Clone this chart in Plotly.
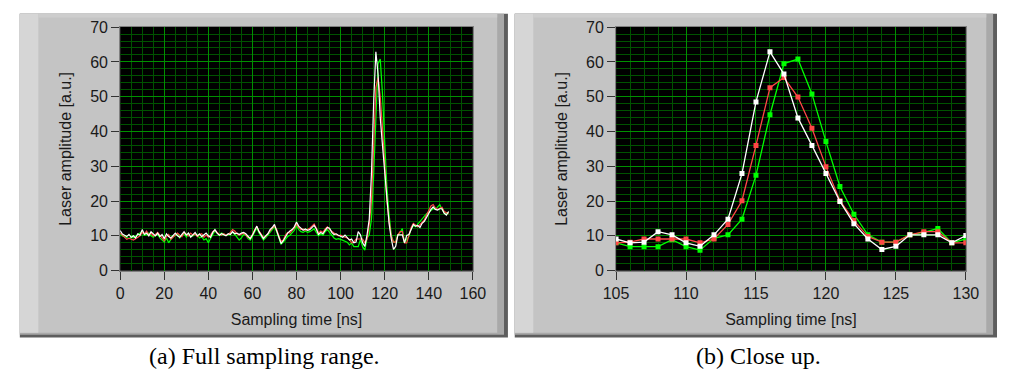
import plotly.graph_objects as go

# Sampling times [ns] and the three recorded laser pulses [a.u.]
t_ns = list(range(0, 150))

white_trace = [
    11.5, 10.5, 10.2, 9.8, 10.4, 9.6, 10.0, 9.4, 10.6, 10.2,
    11.8, 10.4, 10.8, 10.0, 11.2, 10.6, 10.0, 10.8, 9.8, 10.4,
    9.2, 10.6, 9.8, 9.4, 10.2, 10.8, 10.0, 9.6, 10.4, 11.2,
    10.2, 10.8, 9.6, 10.4, 11.0, 10.0, 10.6, 9.8, 10.4, 10.8,
    10.0, 9.6, 11.0, 11.8, 10.8, 10.2, 10.6, 10.4, 10.0, 10.6,
    10.4, 11.2, 10.6, 10.8, 10.4, 10.8, 11.0, 10.6, 9.8, 9.2,
    10.2, 11.4, 12.8, 11.2, 10.2, 9.2, 10.0, 10.6, 11.8, 12.4,
    13.3, 11.6, 9.6, 7.8, 8.6, 9.8, 10.8, 11.4, 11.8, 12.6,
    14.0, 12.8, 12.2, 11.6, 12.0, 11.6, 11.8, 12.4, 13.0, 12.0,
    10.4, 11.0, 10.6, 11.6, 12.4, 12.2, 11.0, 10.4, 10.6, 10.2,
    10.0, 9.6, 10.2, 9.6, 8.8, 9.1, 8.0, 8.2, 11.2, 10.3,
    8.0, 7.0, 10.3, 14.8, 27.9, 48.5, 62.9, 56.5, 43.9, 36.0,
    27.9, 19.9, 13.5, 9.1, 6.1, 7.0, 10.3, 10.3, 10.3, 8.0,
    10.1, 10.4, 12.0, 13.3, 12.8, 13.0, 12.4, 13.6, 14.2, 15.4,
    16.5, 17.6, 18.3, 17.6, 17.4, 17.8, 17.8, 16.5, 16.0, 17.0,
]

red_trace = [
    10.8, 10.2, 9.5, 9.0, 9.3, 9.0, 8.8, 9.2, 9.6, 10.0,
    11.0, 10.6, 11.4, 10.2, 10.8, 10.0, 10.4, 11.0, 10.2, 9.4,
    8.6, 9.8, 10.4, 9.0, 9.6, 10.4, 10.8, 10.2, 9.8, 11.0,
    10.4, 10.0, 10.8, 10.2, 10.6, 9.8, 10.4, 10.6, 9.6, 10.2,
    9.6, 10.2, 11.2, 11.6, 11.0, 10.4, 10.2, 10.6, 10.2, 10.4,
    11.0, 11.8, 11.4, 10.6, 10.2, 10.6, 10.8, 10.2, 9.6, 9.4,
    10.4, 11.8, 12.6, 11.4, 10.4, 9.6, 9.8, 10.6, 11.6, 12.2,
    12.8, 11.8, 10.0, 8.4, 8.8, 10.2, 11.0, 10.8, 11.6, 12.2,
    13.4, 12.4, 11.8, 12.0, 11.6, 11.8, 12.2, 12.8, 13.4, 12.2,
    10.8, 11.4, 11.0, 12.0, 12.6, 11.8, 11.2, 10.8, 10.4, 10.0,
    10.2, 9.8, 9.6, 9.4, 9.0, 8.0, 8.2, 9.1, 9.1, 9.1,
    9.1, 8.0, 9.1, 13.3, 20.1, 36.0, 52.6, 55.5, 49.9, 40.9,
    29.9, 20.1, 14.4, 9.8, 8.2, 8.2, 10.3, 11.2, 11.2, 8.0,
    8.0, 10.2, 12.4, 13.6, 13.0, 12.6, 13.2, 14.0, 14.6, 16.0,
    17.4, 18.6, 19.0, 18.0, 17.6, 17.8, 18.2, 17.0, 16.6, 16.4,
]

green_trace = [
    10.5, 10.0, 9.8, 9.5, 9.2, 9.6, 9.4, 9.8, 10.5, 10.8,
    11.4, 10.2, 10.6, 10.8, 10.0, 9.6, 10.2, 10.4, 9.4, 8.8,
    8.2, 9.4, 8.0, 9.0, 9.8, 10.2, 10.6, 9.4, 10.0, 10.8,
    9.6, 10.4, 9.8, 10.0, 10.6, 10.2, 9.4, 9.8, 8.8, 9.2,
    8.0, 9.4, 10.4, 11.4, 10.8, 10.2, 10.8, 10.6, 10.2, 10.4,
    10.6, 11.0, 10.4, 9.6, 8.8, 9.4, 10.4, 10.2, 9.2, 8.8,
    10.0, 11.2, 12.2, 10.8, 9.6, 8.8, 9.4, 10.2, 11.2, 12.0,
    12.6, 11.2, 9.2, 7.6, 8.2, 9.0, 9.8, 10.2, 10.8, 11.6,
    13.0, 11.8, 11.2, 11.0, 11.4, 11.0, 11.2, 11.6, 12.0, 11.0,
    10.0, 10.6, 10.2, 11.2, 11.8, 11.0, 10.2, 9.4, 9.0, 9.2,
    9.0, 8.8, 8.4, 8.2, 7.4, 8.0, 6.9, 6.9, 6.9, 8.9,
    6.9, 5.9, 9.3, 10.3, 14.8, 27.4, 44.8, 59.5, 60.8, 50.8,
    37.1, 24.2, 16.2, 10.3, 8.2, 8.2, 10.3, 11.0, 12.1, 8.0,
    9.1, 9.8, 12.0, 13.0, 12.6, 13.4, 14.0, 14.8, 15.6, 16.4,
    16.8, 17.4, 17.8, 17.6, 18.2, 19.0, 17.6, 16.6, 16.2, 16.8,
]

series = [
    ("green", green_trace, "#00ff00"),
    ("red", red_trace, "#ff4646"),
    ("white", white_trace, "#ffffff"),
]

x_title = "Sampling time [ns]"
y_title = "Laser amplitude [a.u.]"
captions = ["(a) Full sampling range.", "(b) Close up."]
full_range = [0, 160]
zoom_range = [105, 130]

W, H = 1010, 379


def px(x):
    return x / W


def py(y):
    return 1 - y / H


fig = go.Figure()

# full range panel: plain lines
for name, vals, col in series:
    fig.add_trace(go.Scatter(
        x=t_ns, y=vals, mode="lines", name=name,
        line=dict(color=col, width=1.2),
        xaxis="x", yaxis="y", showlegend=False,
    ))

# close-up panel: lines with square markers
for name, vals, col in series:
    fig.add_trace(go.Scatter(
        x=t_ns, y=vals, mode="lines+markers", name=name,
        line=dict(color=col, width=1.3),
        marker=dict(symbol="square", size=5, color=col),
        xaxis="x2", yaxis="y2", showlegend=False, cliponaxis=True,
    ))

font_axis = dict(family="Liberation Sans, Arial, sans-serif", size=16, color="#1a1a1a")

grid_major = "#009000"
grid_minor = "#005200"


def xax(domain, rng, dtick, minor_dtick, anchor):
    return dict(
        domain=domain, range=rng, anchor=anchor,
        dtick=dtick, tick0=rng[0], showgrid=True, gridcolor=grid_major, gridwidth=1,
        minor=dict(dtick=minor_dtick, tick0=rng[0], showgrid=True,
                   gridcolor=grid_minor, gridwidth=1, ticks=""),
        ticks="outside", ticklen=8, tickwidth=1, tickcolor="#333333",
        tickfont=font_axis, zeroline=False,
        showline=True, linecolor="#808080", linewidth=1, mirror=True,
        title=dict(text=x_title, font=font_axis, standoff=12),
        fixedrange=True,
    )


def yax(domain, anchor):
    return dict(
        domain=domain, range=[0, 70], anchor=anchor,
        dtick=10, tick0=0, showgrid=True, gridcolor=grid_major, gridwidth=1,
        minor=dict(dtick=2, tick0=0, showgrid=True,
                   gridcolor=grid_minor, gridwidth=1, ticks=""),
        ticks="outside", ticklen=8, tickwidth=1, tickcolor="#333333",
        tickfont=font_axis, zeroline=False,
        showline=True, linecolor="#808080", linewidth=1, mirror=True,
        title=dict(text=y_title, font=font_axis, standoff=14),
        fixedrange=True,
    )


ydom = [py(275), py(20)]
fig.update_layout(
    width=W, height=H,
    margin=dict(l=0, r=0, t=0, b=0),
    paper_bgcolor="#ffffff",
    plot_bgcolor="#000000",
    xaxis=xax([px(110), px(472)], full_range, 20, 5, "y"),
    yaxis=yax(ydom, "x"),
    xaxis2=xax([px(619), px(978)], zoom_range, 5, 1, "y2"),
    yaxis2=yax(ydom, "x2"),
)

# grey instrument panels behind each graph, then the black plot screens
shapes = []
for x0, x1 in [(7, 508), (515, 1010)]:
    shapes.append(dict(type="rect", xref="paper", yref="paper", layer="below",
                       x0=px(x0), x1=px(x1), y0=py(345), y1=py(6),
                       fillcolor="#5e5e5e", line=dict(width=0)))
    shapes.append(dict(type="rect", xref="paper", yref="paper", layer="below",
                       x0=px(x0), x1=px(x1 - 4), y0=py(342), y1=py(6),
                       fillcolor="#a9a9a9", line=dict(width=0)))
    shapes.append(dict(type="rect", xref="paper", yref="paper", layer="below",
                       x0=px(x0), x1=px(x1 - 11), y0=py(340), y1=py(6),
                       fillcolor="#c4c4c4", line=dict(width=0)))
    shapes.append(dict(type="rect", xref="paper", yref="paper", layer="below",
                       x0=px(x0), x1=px(x0 + 19), y0=py(340), y1=py(6),
                       fillcolor="#d6d6d6", line=dict(width=0)))
    shapes.append(dict(type="rect", xref="paper", yref="paper", layer="below",
                       x0=px(x0 + 19), x1=px(x1 - 11), y0=py(10), y1=py(6),
                       fillcolor="#cdcdcd", line=dict(width=0)))
for xr, yr in [("x domain", "y domain"), ("x2 domain", "y2 domain")]:
    shapes.append(dict(type="rect", xref=xr, yref=yr, layer="below",
                       x0=0, x1=1, y0=0, y1=1,
                       fillcolor="#000000", line=dict(width=0)))
fig.update_layout(shapes=shapes)

for cx, text in zip([258, 765], captions):
    fig.add_annotation(
        x=px(cx), y=py(364), xref="paper", yref="paper",
        text=text, showarrow=False, xanchor="center", yanchor="middle",
        font=dict(family="Liberation Serif, Times New Roman, serif", size=24, color="#000000"),
    )

fig.write_html("out.html")
